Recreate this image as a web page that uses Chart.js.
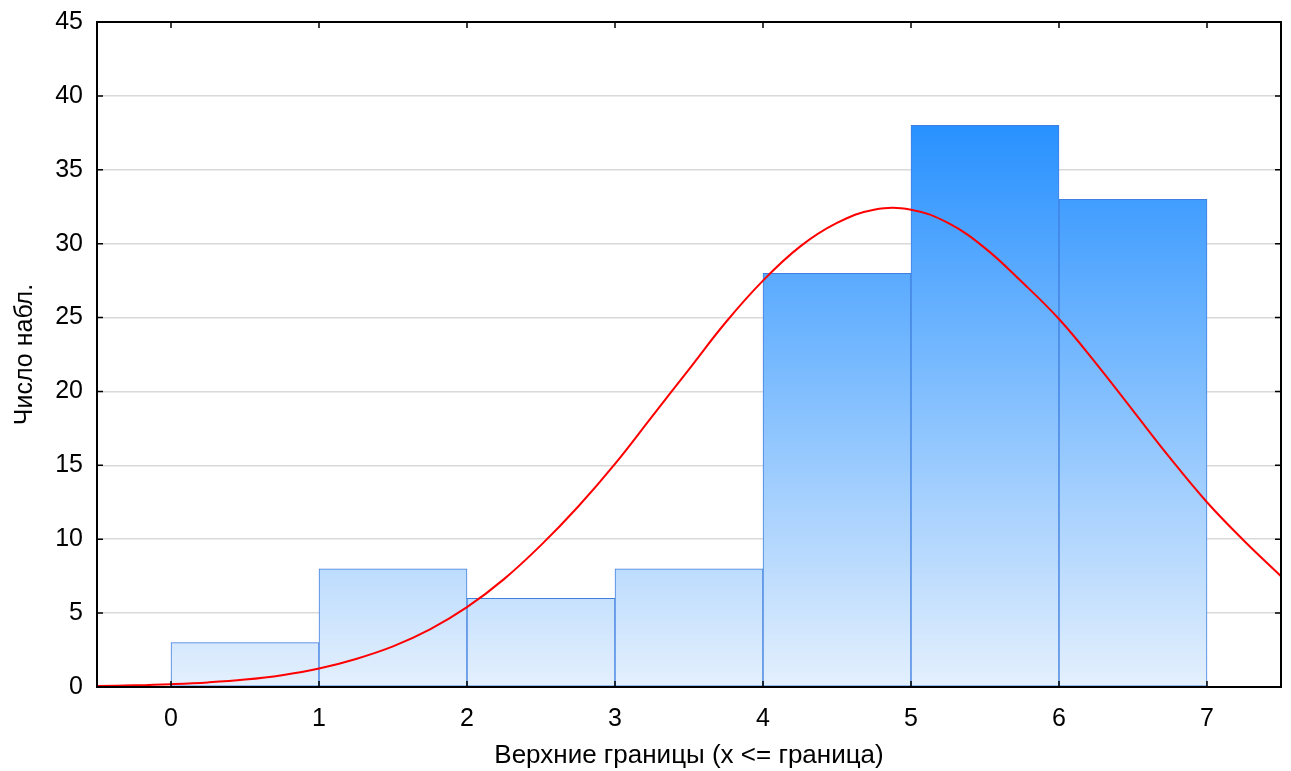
<!DOCTYPE html>
<html>
<head>
<meta charset="utf-8">
<script src="https://cdn.jsdelivr.net/npm/chart.js@4/dist/chart.umd.min.js"></script>
<style>
  html, body { margin: 0; padding: 0; background: #fff; }
  #wrap { width: 1291px; height: 771px; }
</style>
</head>
<body>
<div id="wrap"><canvas id="c"></canvas></div>
<script>
// границы интервалов и частоты
const binCenters = [0.5, 1.5, 2.5, 3.5, 4.5, 5.5, 6.5];
const binCounts = [3, 8, 6, 8, 28, 38, 33];
// нормальная кривая
const curveX = [-0.5, -0.25, 0, 0.25, 0.5, 0.75, 1, 1.25, 1.5, 1.75, 2, 2.25, 2.5, 2.75, 3, 3.25, 3.5, 3.75, 4, 4.25, 4.5, 4.75, 5, 5.25, 5.5, 5.75, 6, 6.25, 6.5, 6.75, 7, 7.25, 7.5];
const curveY = [0.06, 0.11, 0.19, 0.31, 0.5, 0.8, 1.25, 1.9, 2.75, 3.9, 5.4, 7.3, 9.6, 12.2, 15.1, 18.3, 21.5, 24.7, 27.5, 29.8, 31.4, 32.3, 32.3, 31.4, 29.7, 27.4, 24.9, 21.9, 18.7, 15.5, 12.5, 9.9, 7.5];
const xTicks = [0, 1, 2, 3, 4, 5, 6, 7];
const yTicks = [0, 5, 10, 15, 20, 25, 30, 35, 40, 45];

const family = 'Liberation Sans, Arial, sans-serif';
const tickFont = { family: family, size: 25 };

// рамка и внутренние засечки
const framePlugin = {
  id: 'frame',
  afterDatasetsDraw(chart) {
    const { ctx, chartArea: a, scales } = chart;
    ctx.save();
    ctx.strokeStyle = '#000';
    ctx.lineWidth = 2;
    ctx.strokeRect(a.left, a.top, a.right - a.left, a.bottom - a.top);
    ctx.lineWidth = 1.5;
    ctx.beginPath();
    xTicks.forEach(v => {
      const px = scales.x.getPixelForValue(v);
      ctx.moveTo(px, a.bottom); ctx.lineTo(px, a.bottom - 6);
      ctx.moveTo(px, a.top); ctx.lineTo(px, a.top + 6);
    });
    yTicks.forEach(v => {
      const py = scales.y.getPixelForValue(v);
      ctx.moveTo(a.left, py); ctx.lineTo(a.left + 6, py);
      ctx.moveTo(a.right, py); ctx.lineTo(a.right - 6, py);
    });
    ctx.stroke();
    ctx.restore();
  }
};

function barGradient(context) {
  const chart = context.chart;
  if (!chart.chartArea) return '#8cc4fd';
  const y = chart.scales.y;
  const g = chart.ctx.createLinearGradient(0, y.getPixelForValue(0), 0, y.getPixelForValue(38));
  g.addColorStop(0, '#e4f0fd');
  g.addColorStop(1, '#2891ff');
  return g;
}

new Chart(document.getElementById('c'), {
  type: 'bar',
  data: {
    datasets: [
      {
        type: 'line',
        data: curveX.map((x, i) => ({ x: x, y: curveY[i] })),
        borderColor: '#ff0000',
        borderWidth: 2,
        pointRadius: 0,
        tension: 0.4,
        fill: false,
        order: 0
      },
      {
        type: 'bar',
        data: binCenters.map((x, i) => ({ x: x, y: binCounts[i] })),
        backgroundColor: barGradient,
        borderColor: '#3f7fe0',
        borderWidth: 1,
        borderSkipped: false,
        barPercentage: 1,
        categoryPercentage: 1,
        order: 1
      }
    ]
  },
  options: {
    responsive: true,
    maintainAspectRatio: false,
    animation: false,
    layout: { padding: { top: 22, right: 10, left: 0, bottom: 0 } },
    plugins: { legend: { display: false }, tooltip: { enabled: false } },
    scales: {
      x: {
        type: 'linear',
        offset: false,
        min: -0.5,
        max: 7.5,
        afterBuildTicks: s => { s.ticks = xTicks.map(v => ({ value: v })); },
        afterFit: s => { s.height = 84; s.paddingLeft = 0; s.paddingRight = 0; },
        grid: { display: false, drawTicks: false },
        border: { display: false },
        ticks: { color: '#000', font: tickFont, padding: 17, maxRotation: 0 },
        title: { display: true, text: 'Верхние границы (x <= граница)', color: '#000', font: { family: family, size: 26 }, padding: { top: 14, bottom: 0 } }
      },
      y: {
        min: 0,
        max: 45,
        afterBuildTicks: s => { s.ticks = yTicks.map(v => ({ value: v })); },
        afterFit: s => { s.width = 97; s.paddingTop = 0; s.paddingBottom = 0; },
        grid: {
          drawTicks: false,
          color: ctx => (ctx.tick && (ctx.tick.value === 0 || ctx.tick.value === 45)) ? 'rgba(0,0,0,0)' : '#d9d9d9',
          lineWidth: 1.5
        },
        border: { display: false },
        ticks: { color: '#000', font: tickFont, padding: 14 },
        title: { display: true, text: 'Число набл.', color: '#000', font: { family: family, size: 25 }, padding: { top: 10, bottom: 4 } }
      }
    }
  },
  plugins: [framePlugin]
});
</script>
</body>
</html>
